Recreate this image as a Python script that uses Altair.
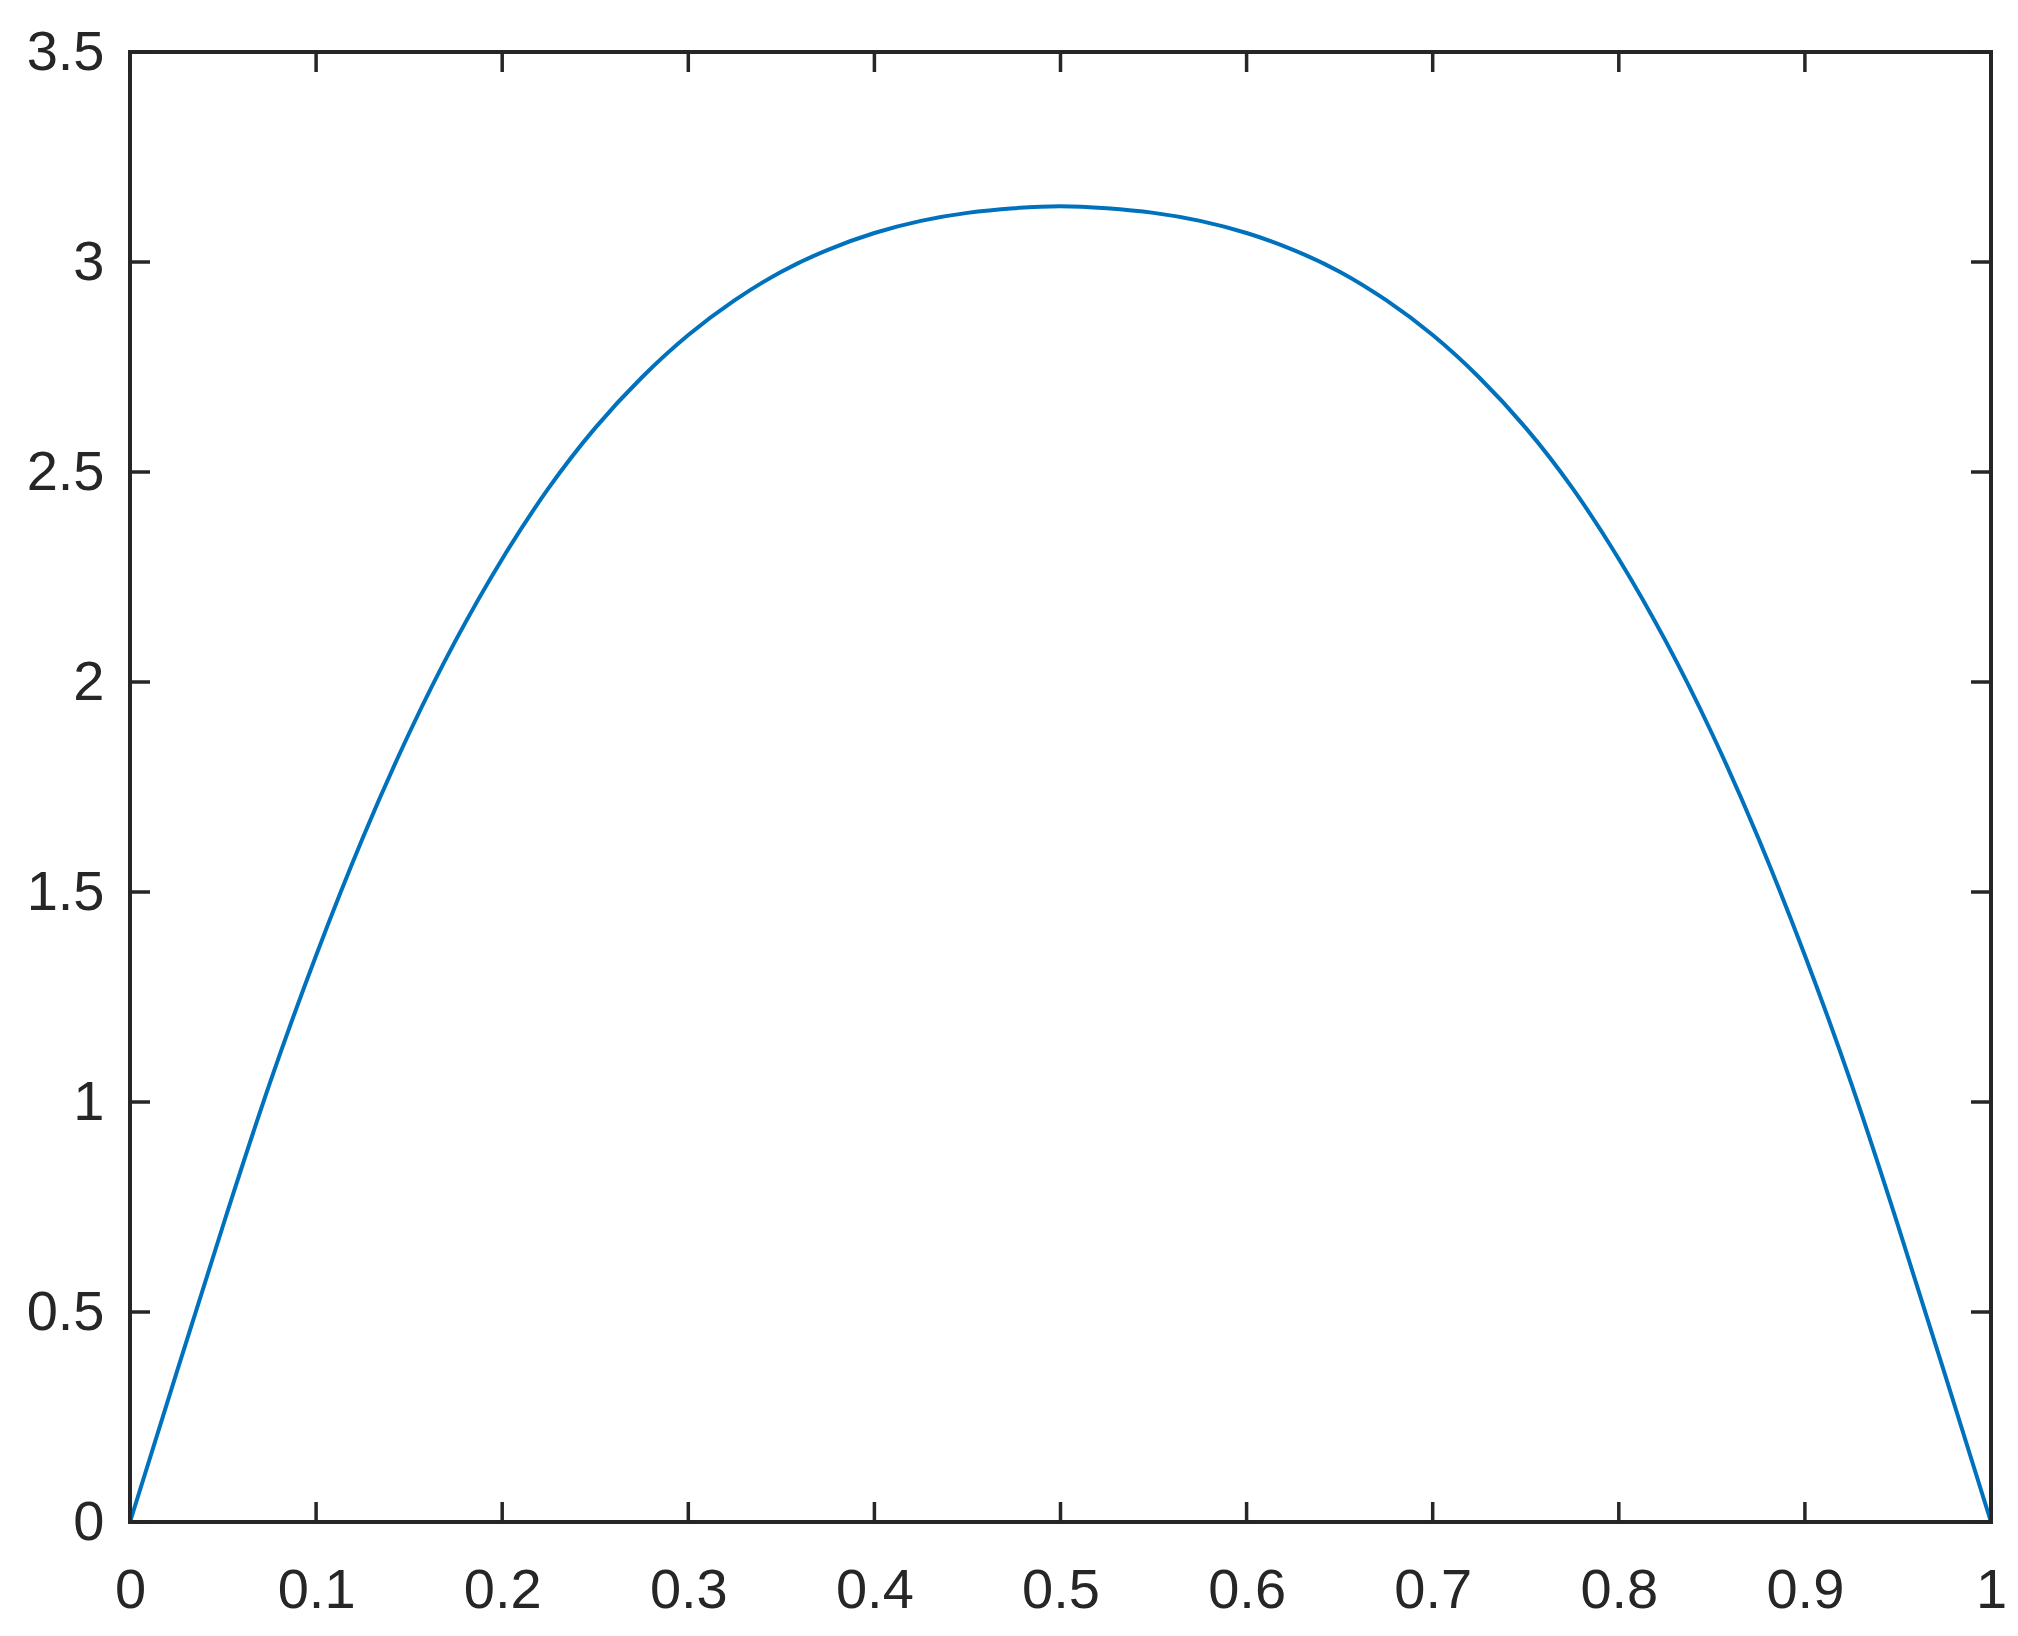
import altair as alt
import pandas as pd

# Curve values
x_vals = [0.0, 0.025, 0.05, 0.075, 0.1, 0.125, 0.15, 0.175, 0.2, 0.225, 0.25,
          0.275, 0.3, 0.325, 0.35, 0.375, 0.4, 0.425, 0.45, 0.475, 0.5,
          0.525, 0.55, 0.575, 0.6, 0.625, 0.65, 0.675, 0.7, 0.725, 0.75,
          0.775, 0.8, 0.825, 0.85, 0.875, 0.9, 0.925, 0.95, 0.975, 1.0]
y_vals = [0.0, 0.355, 0.706, 1.043, 1.349, 1.628, 1.878, 2.099, 2.293, 2.462, 2.605,
          2.725, 2.826, 2.909, 2.977, 3.029, 3.069, 3.098, 3.117, 3.128, 3.133,
          3.128, 3.117, 3.098, 3.069, 3.029, 2.977, 2.909, 2.826, 2.725, 2.605,
          2.462, 2.293, 2.099, 1.878, 1.628, 1.349, 1.043, 0.706, 0.355, 0.0]

x_ticks = [0, 0.1, 0.2, 0.3, 0.4, 0.5, 0.6, 0.7, 0.8, 0.9, 1]
y_ticks = [0, 0.5, 1, 1.5, 2, 2.5, 3, 3.5]

W, H = 1861, 1470
TICK = 20
INK = "#262626"
FONT = "Liberation Sans"

df = pd.DataFrame({"x": x_vals, "y": y_vals})
xt = pd.DataFrame({"x": x_ticks})
yt = pd.DataFrame({"y": y_ticks})

xs = alt.Scale(domain=[0, 1], nice=False, zero=False)
ys = alt.Scale(domain=[0, 3.5], nice=False, zero=False)

label_common = dict(labelFont=FONT, labelFontSize=56, labelColor=INK,
                    domain=False, grid=False, title=None, ticks=False,
                    tickSize=0, labelFlush=False, format="~g")

x_axis = alt.Axis(orient="bottom", values=x_ticks, labelPadding=41, **label_common)
y_axis = alt.Axis(orient="left", values=y_ticks, labelPadding=26, **label_common)

line = alt.Chart(df).mark_line(color="#0072BD", strokeWidth=4,
                               interpolate="natural").encode(
    x=alt.X("x:Q", scale=xs, axis=x_axis),
    y=alt.Y("y:Q", scale=ys, axis=y_axis),
)

rule_style = dict(color=INK, strokeWidth=3.5)

ticks_bottom = alt.Chart(xt).mark_rule(**rule_style).encode(
    x=alt.X("x:Q", scale=xs, axis=x_axis),
    y=alt.value(H), y2=alt.value(H - TICK))
ticks_top = alt.Chart(xt).mark_rule(**rule_style).encode(
    x=alt.X("x:Q", scale=xs, axis=x_axis),
    y=alt.value(0), y2=alt.value(TICK))
ticks_left = alt.Chart(yt).mark_rule(**rule_style).encode(
    y=alt.Y("y:Q", scale=ys, axis=y_axis),
    x=alt.value(0), x2=alt.value(TICK))
ticks_right = alt.Chart(yt).mark_rule(**rule_style).encode(
    y=alt.Y("y:Q", scale=ys, axis=y_axis),
    x=alt.value(W), x2=alt.value(W - TICK))

chart = (
    alt.layer(line, ticks_bottom, ticks_top, ticks_left, ticks_right)
    .properties(
        width=W, height=H,
        autosize=alt.AutoSizeParams(type="none"),
        padding={"left": 122, "top": 44, "right": 19, "bottom": 100},
        background="white",
    )
    .configure_view(stroke=INK, strokeWidth=4)
)

chart.save("out.html", embed_options={"renderer": "svg", "actions": False})
